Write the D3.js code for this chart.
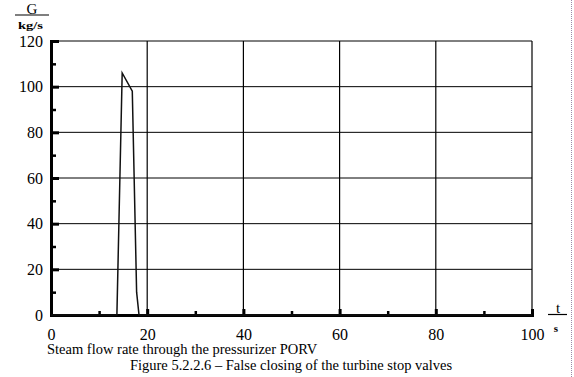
<!DOCTYPE html>
<html>
<head>
<meta charset="utf-8">
<script src="https://cdn.jsdelivr.net/npm/d3@7"></script>
<style>
  body { margin: 0; background: #fff; }
  svg { display: block; }
  svg text { font-family: "Liberation Serif", "Times New Roman", serif !important; fill: #000; }
</style>
</head>
<body>
<svg width="574" height="377"></svg>
<script>
// flow rate of steam through the PORV, kg/s vs time, s
var time = [0, 13.7, 14.8, 16.9, 17.8, 18.3, 100];
var flow = [0, 0, 106, 98, 10, 0, 0];
var xTicks = [0, 20, 40, 60, 80, 100];
var yTicks = [0, 20, 40, 60, 80, 100, 120];
var xMinor = [10, 30, 50, 70, 90];
var yMinor = [10, 30, 50, 70, 90, 110];

var svg = d3.select("svg");
var pLeft = 51, pRight = 532, pTop = 41, pBottom = 315;

var x = d3.scaleLinear().domain([0, 100]).range([pLeft, pRight]);
var y = d3.scaleLinear().domain([0, 120]).range([pBottom, pTop]);

// grid
svg.append("g").selectAll("line")
    .data(yTicks.slice(1))
    .enter().append("line")
    .attr("x1", pLeft).attr("x2", pRight)
    .attr("y1", function (d) { return y(d); })
    .attr("y2", function (d) { return y(d); })
    .attr("stroke", "#000").attr("stroke-width", 1);

svg.append("g").selectAll("line")
    .data(xTicks.slice(1))
    .enter().append("line")
    .attr("y1", pTop).attr("y2", pBottom)
    .attr("x1", function (d) { return x(d); })
    .attr("x2", function (d) { return x(d); })
    .attr("stroke", "#000").attr("stroke-width", 1.2);

// axes
var gx = svg.append("g")
    .attr("transform", "translate(0," + pBottom + ")")
    .call(d3.axisBottom(x).tickValues(xTicks).tickSize(-6).tickPadding(19));
gx.attr("font-family", null);
gx.select(".domain").attr("stroke-width", 3);
gx.selectAll(".tick line").attr("stroke-width", 3);
gx.selectAll(".tick text").attr("font-size", "16px").attr("dy", "0.35em")
    .style("font-family", "'Liberation Serif', serif");

svg.append("g")
    .attr("transform", "translate(0," + pBottom + ")")
    .call(d3.axisBottom(x).tickValues(xMinor).tickSize(-4).tickFormat(""))
    .call(function (g) { g.select(".domain").remove(); })
    .selectAll(".tick line").attr("stroke-width", 2.5);

var gy = svg.append("g")
    .attr("transform", "translate(" + pLeft + ",0)")
    .call(d3.axisLeft(y).tickValues(yTicks).tickSize(-8).tickPadding(8));
gy.attr("font-family", null);
gy.select(".domain").attr("stroke-width", 3);
gy.selectAll(".tick line").attr("stroke-width", 3);
gy.selectAll(".tick text").attr("font-size", "16px").attr("dy", "0.32em")
    .style("font-family", "'Liberation Serif', serif");

svg.append("g")
    .attr("transform", "translate(" + pLeft + ",0)")
    .call(d3.axisLeft(y).tickValues(yMinor).tickSize(-5).tickFormat(""))
    .call(function (g) { g.select(".domain").remove(); })
    .selectAll(".tick line").attr("stroke-width", 2.5);

// curve
var line = d3.line()
    .x(function (d, i) { return x(time[i]); })
    .y(function (d) { return y(d); });

svg.append("path")
    .datum(flow)
    .attr("d", line)
    .attr("fill", "none")
    .attr("stroke", "#111")
    .attr("stroke-width", 1.5);

// unit labels
svg.append("text").attr("x", 32).attr("y", 13.5).attr("text-anchor", "middle")
    .attr("font-size", "15px").text("G");
svg.append("line").attr("x1", 15).attr("x2", 49).attr("y1", 15).attr("y2", 15)
    .attr("stroke", "#000").attr("stroke-width", 1.2);
svg.append("text").attr("x", 18).attr("y", 28.5)
    .attr("font-size", "11px").attr("font-weight", "bold")
    .attr("textLength", 25).attr("lengthAdjust", "spacingAndGlyphs").text("kg/s");

svg.append("text").attr("x", 558).attr("y", 313).attr("text-anchor", "middle")
    .attr("font-size", "15px").text("t");
svg.append("line").attr("x1", 548).attr("x2", 567).attr("y1", 314.5).attr("y2", 314.5)
    .attr("stroke", "#000").attr("stroke-width", 1.2);
svg.append("text").attr("x", 556).attr("y", 332).attr("text-anchor", "middle")
    .attr("font-size", "11px").attr("font-weight", "bold").text("s");

// captions
svg.append("text").attr("x", 47).attr("y", 354)
    .attr("font-size", "14.5px").text("Steam flow rate through the pressurizer PORV");
svg.append("text").attr("x", 291).attr("y", 369.5).attr("text-anchor", "middle")
    .attr("font-size", "14.5px").text("Figure 5.2.2.6 \u2013 False closing of the turbine stop valves");

// page edge
svg.append("line").attr("x1", 571.5).attr("x2", 571.5).attr("y1", 0).attr("y2", 377)
    .attr("stroke", "#9a8aa8").attr("stroke-width", 1).attr("stroke-dasharray", "1,1");
</script>
</body>
</html>
